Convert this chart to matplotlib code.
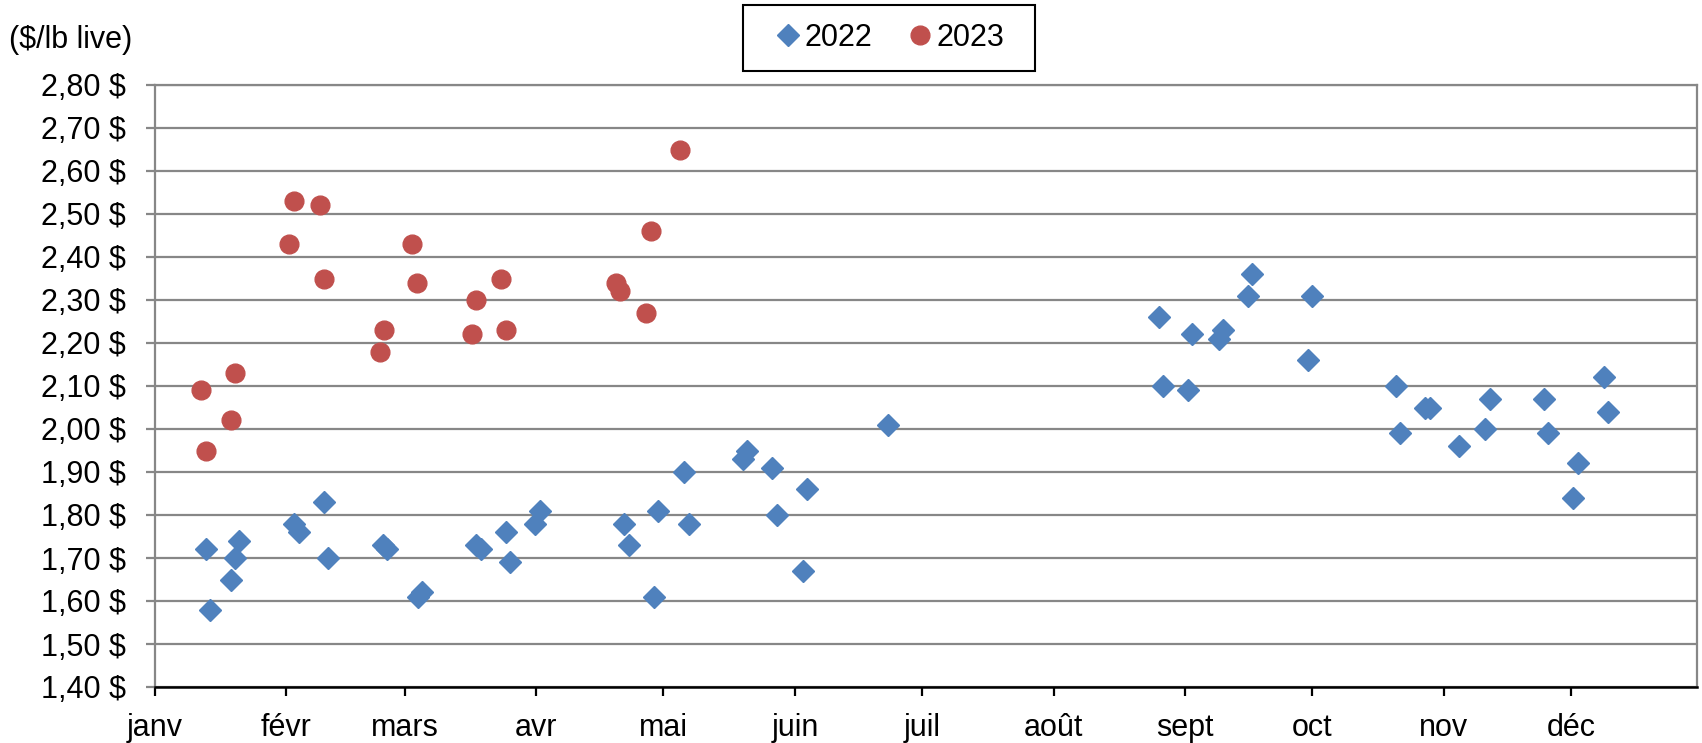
import matplotlib.pyplot as plt
from matplotlib.patches import Rectangle
import numpy as np

plt.rcParams['font.family'] = ['Liberation Sans', 'DejaVu Sans']

# day of year (0 = 1 janv) and price ($/lb live)
days_2022 = [12.1, 13.1, 18.0, 19.0, 20.0, 32.8, 34.1, 40.0, 41.0, 53.9, 54.9,
             62.1, 63.1, 75.9, 77.0, 82.9, 83.9, 89.8, 90.8, 110.8, 111.9,
             117.8, 118.8, 124.9, 126.0, 138.8, 139.8, 145.7, 146.7, 152.9,
             153.9, 172.9, 236.8, 237.8, 243.7, 244.7, 250.9, 251.9, 257.8,
             258.8, 271.9, 272.9, 292.7, 293.7, 299.6, 300.7, 307.6, 313.8,
             314.8, 327.6, 328.6, 334.5, 335.6, 341.7, 342.7]
price_2022 = [1.72, 1.58, 1.65, 1.70, 1.74, 1.78, 1.76, 1.83, 1.70, 1.73, 1.72,
              1.61, 1.62, 1.73, 1.72, 1.76, 1.69, 1.78, 1.81, 1.78, 1.73,
              1.61, 1.81, 1.90, 1.78, 1.93, 1.95, 1.91, 1.80, 1.67,
              1.86, 2.01, 2.26, 2.10, 2.09, 2.22, 2.21, 2.23, 2.31,
              2.36, 2.16, 2.31, 2.10, 1.99, 2.05, 2.05, 1.96, 2.00,
              2.07, 2.07, 1.99, 1.84, 1.92, 2.12, 2.04]

days_2023 = [11.0, 12.1, 18.0, 19.0, 31.8, 32.8, 39.0, 40.0, 53.1, 54.1, 60.8,
             61.8, 74.9, 75.9, 81.8, 82.9, 108.8, 109.8, 116.0, 117.0, 123.9]
price_2023 = [2.09, 1.95, 2.02, 2.13, 2.43, 2.53, 2.52, 2.35, 2.18, 2.23, 2.43,
              2.34, 2.22, 2.30, 2.35, 2.23, 2.34, 2.32, 2.27, 2.46, 2.65]

month_starts = [0, 31, 59, 90, 120, 151, 181, 212, 243, 273, 304, 334]
month_labels = ['janv', 'févr', 'mars', 'avr', 'mai', 'juin', 'juil', 'août',
                'sept', 'oct', 'nov', 'déc']

W, H = 1702, 743
fig = plt.figure(figsize=(W / 100, H / 100), dpi=100)
ax = fig.add_axes([154.5 / W, 1 - 687 / H, (1697 - 154.5) / W, (687 - 85) / H])

ax.plot(days_2022, price_2022, linestyle='none', marker='D', markersize=11,
        color='#4F81BD', label='2022', zorder=3, clip_on=False)
ax.plot(days_2023, price_2023, linestyle='none', marker='o', markersize=13.5,
        color='#C0504D', label='2023', zorder=3, clip_on=False)

ax.set_xlim(0, 363.7)
ax.set_ylim(1.40, 2.80)
yt = np.arange(1.40, 2.801, 0.10)
ax.set_yticks(yt)
ax.set_yticklabels([('%.2f $' % v).replace('.', ',') for v in yt])
ax.set_xticks(month_starts)
ax.set_xticklabels(month_labels)

grey = '#878787'
ax.grid(axis='y', color=grey, linewidth=1.6)
ax.set_axisbelow(True)
for s in ['top', 'right', 'left']:
    ax.spines[s].set_color(grey)
    ax.spines[s].set_linewidth(1.6)
ax.spines['bottom'].set_color('black')
ax.spines['bottom'].set_linewidth(1.8)
ax.spines['bottom'].set_zorder(2.5)
ax.tick_params(axis='y', direction='out', length=6.5, width=1.6, color=grey,
               labelsize=22, labelcolor='black', pad=14)
ax.tick_params(axis='x', direction='out', length=6.5, width=1.6,
               color='black', labelsize=22, labelcolor='black', pad=12)

fig.text(9 / W, 1 - 40 / H, '($/lb live)', fontsize=22, ha='left',
         va='center')

# legend box
fig.patches.append(Rectangle((743 / W, 1 - 71 / H), 292 / W, 66 / H,
                             transform=fig.transFigure, fill=False,
                             edgecolor='black', linewidth=1.5))
fig.legend(loc='center', bbox_to_anchor=(890 / W, 1 - 38 / H), ncol=2,
           fontsize=22, frameon=False, handletextpad=0.12, columnspacing=1.18,
           borderpad=0.0, handlelength=0.8)

fig.savefig('out.png', dpi=100)
